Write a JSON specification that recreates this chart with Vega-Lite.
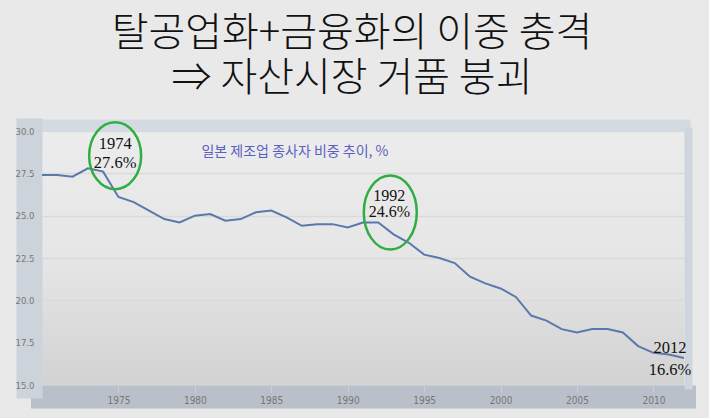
{
  "$schema": "https://vega.github.io/schema/vega-lite/v6.json",
  "width": 642,
  "height": 254,
  "autosize": {"type": "none"},
  "padding": {"left": 42, "top": 131, "right": 25, "bottom": 33},
  "background": "#e9e9e9",
  "title": {
    "text": ["탈공업화+금융화의 이중 충격", "⇒ 자산시장 거품 붕괴"],
    "font": "Noto Sans CJK KR",
    "fontSize": 40,
    "fontWeight": 300,
    "lineHeight": 45,
    "color": "#111111",
    "anchor": "middle",
    "dx": -11,
    "dy": 42,
    "offset": 20,
    "baseline": "bottom"
  },
  "config": {
    "view": {
      "stroke": null,
      "fill": {
        "gradient": "linear",
        "x1": 0, "y1": 0, "x2": 0, "y2": 1,
        "stops": [
          {"offset": 0, "color": "#ececec"},
          {"offset": 0.5, "color": "#e6e6e6"},
          {"offset": 1, "color": "#d2d2d2"}
        ]
      }
    }
  },
  "layer": [
    {
      "data": {
        "values": [
          {"year": 1970, "value": 27.4}, {"year": 1971, "value": 27.4}, {"year": 1972, "value": 27.3},
          {"year": 1973, "value": 27.8}, {"year": 1974, "value": 27.6}, {"year": 1975, "value": 26.1},
          {"year": 1976, "value": 25.8}, {"year": 1977, "value": 25.3}, {"year": 1978, "value": 24.8},
          {"year": 1979, "value": 24.6}, {"year": 1980, "value": 25.0}, {"year": 1981, "value": 25.1},
          {"year": 1982, "value": 24.7}, {"year": 1983, "value": 24.8}, {"year": 1984, "value": 25.2},
          {"year": 1985, "value": 25.3}, {"year": 1986, "value": 24.9}, {"year": 1987, "value": 24.4},
          {"year": 1988, "value": 24.5}, {"year": 1989, "value": 24.5}, {"year": 1990, "value": 24.3},
          {"year": 1991, "value": 24.6}, {"year": 1992, "value": 24.6}, {"year": 1993, "value": 23.9},
          {"year": 1994, "value": 23.4}, {"year": 1995, "value": 22.7}, {"year": 1996, "value": 22.5},
          {"year": 1997, "value": 22.2}, {"year": 1998, "value": 21.4}, {"year": 1999, "value": 21.0},
          {"year": 2000, "value": 20.7}, {"year": 2001, "value": 20.2}, {"year": 2002, "value": 19.1},
          {"year": 2003, "value": 18.8}, {"year": 2004, "value": 18.3}, {"year": 2005, "value": 18.1},
          {"year": 2006, "value": 18.3}, {"year": 2007, "value": 18.3}, {"year": 2008, "value": 18.1},
          {"year": 2009, "value": 17.3}, {"year": 2010, "value": 16.9}, {"year": 2011, "value": 16.8},
          {"year": 2012, "value": 16.6}
        ]
      },
      "mark": {"type": "line", "color": "#5a78ab", "strokeWidth": 2},
      "encoding": {
        "x": {
          "field": "year", "type": "quantitative",
          "scale": {"domain": [1970, 2012], "nice": false, "zero": false},
          "axis": {
            "orient": "bottom", "title": null, "zindex": 1,
            "values": [1975, 1980, 1985, 1990, 1995, 2000, 2005, 2010],
            "format": "d", "grid": false, "domain": false,
            "tickSize": 7, "tickColor": "#cbd0d7", "tickWidth": 1,
            "labelFont": "Liberation Sans Narrow, DejaVu Sans Condensed, sans-serif",
            "labelFontSize": 10, "labelColor": "#777777",
            "labelBaseline": "middle", "labelPadding": 8
          }
        },
        "y": {
          "field": "value", "type": "quantitative",
          "scale": {"domain": [15, 30], "nice": false, "zero": false},
          "axis": {
            "orient": "left", "title": null, "zindex": 1,
            "values": [15, 17.5, 20, 22.5, 25, 27.5, 30],
            "format": ".1f", "domain": false, "ticks": false, "grid": false,
            "labelFont": "Liberation Sans Narrow, DejaVu Sans Condensed, sans-serif",
            "labelFontSize": 9.5, "labelColor": "#777777",
            "labelAlign": "right", "labelBaseline": "middle", "labelPadding": 8
          }
        }
      }
    },
    {
      "data": {"values": [{"year": 1974, "value": 27.6}]},
      "mark": {
        "type": "point",
        "shape": "M-0.776,0A0.776,1 0 1,0 0.776,0A0.776,1 0 1,0 -0.776,0Z",
        "size": 4489, "filled": false, "stroke": "#2fae44", "strokeWidth": 2.5, "opacity": 1,
        "xOffset": 12, "yOffset": -16
      },
      "encoding": {
        "x": {
          "field": "year", "type": "quantitative",
          "axis": {
            "orient": "bottom", "title": null, "labels": false, "ticks": false, "grid": false,
            "zindex": 0,
            "offset": 11.5, "domainWidth": 23, "domainColor": "#bac0c9", "domainCap": "square"
          }
        },
        "y": {
          "field": "value", "type": "quantitative",
          "axis": {
            "orient": "left", "title": null, "labels": false, "ticks": false, "zindex": 0,
            "values": [15, 17.5, 20, 22.5, 25, 27.5, 30],
            "grid": true, "gridColor": "#d9d9d9", "gridWidth": 1.5,
            "offset": 13, "domainWidth": 26, "domainColor": "#cdd3db", "domainCap": "square"
          }
        }
      }
    },
    {
      "data": {"values": [{"year": 1992, "value": 24.6}]},
      "mark": {
        "type": "point",
        "shape": "M-0.716,0A0.716,1 0 1,0 0.716,0A0.716,1 0 1,0 -0.716,0Z",
        "size": 5476, "filled": false, "stroke": "#2fae44", "strokeWidth": 2.5, "opacity": 1,
        "xOffset": 12, "yOffset": -10
      },
      "encoding": {
        "x": {
          "field": "year", "type": "quantitative",
          "axis": {
            "orient": "top", "title": null, "labels": false, "ticks": false, "grid": false,
            "zindex": 0,
            "offset": 6, "domainWidth": 12, "domainColor": "#d3dae1", "domainCap": "square"
          }
        },
        "y": {
          "field": "value", "type": "quantitative",
          "axis": {
            "orient": "right", "title": null, "labels": false, "ticks": false, "grid": false,
            "zindex": 0,
            "offset": 4, "domainWidth": 8, "domainColor": "#cfd5dc", "domainCap": "square"
          }
        }
      }
    },
    {
      "data": {"values": [{"year": 1974, "value": 27.6, "label": ["1974", "27.6%"]}]},
      "mark": {
        "type": "text", "font": "Liberation Serif", "fontSize": 16.5, "color": "#111111",
        "lineHeight": 19, "baseline": "middle", "align": "center",
        "dx": 12, "dy": -28
      },
      "encoding": {
        "x": {"field": "year", "type": "quantitative", "axis": null},
        "y": {"field": "value", "type": "quantitative", "axis": null},
        "text": {"field": "label"}
      }
    },
    {
      "data": {"values": [{"year": 1992, "value": 24.6, "label": ["1992", "24.6%"]}]},
      "mark": {
        "type": "text", "font": "Liberation Serif", "fontSize": 16, "color": "#111111",
        "lineHeight": 16, "baseline": "middle", "align": "center",
        "dx": 11, "dy": -26
      },
      "encoding": {
        "x": {"field": "year", "type": "quantitative", "axis": null},
        "y": {"field": "value", "type": "quantitative", "axis": null},
        "text": {"field": "label"}
      }
    },
    {
      "data": {"values": [{"year": 2012, "value": 16.6, "label": ["2012", "16.6%"]}]},
      "mark": {
        "type": "text", "font": "Liberation Serif", "fontSize": 16.5, "color": "#111111",
        "lineHeight": 22, "baseline": "middle", "align": "center",
        "dx": -14, "dy": -10
      },
      "encoding": {
        "x": {"field": "year", "type": "quantitative", "axis": null},
        "y": {"field": "value", "type": "quantitative", "axis": null},
        "text": {"field": "label"}
      }
    },
    {
      "data": {"values": [{"year": 1986.55, "value": 28.76, "label": "일본 제조업 종사자 비중 추이, %"}]},
      "mark": {
        "type": "text", "font": "Noto Sans CJK KR", "fontSize": 14, "color": "#5b5fbf",
        "baseline": "middle", "align": "center"
      },
      "encoding": {
        "x": {"field": "year", "type": "quantitative", "axis": null},
        "y": {"field": "value", "type": "quantitative", "axis": null},
        "text": {"field": "label"}
      }
    }
  ],
  "resolve": {"axis": {"x": "independent", "y": "independent"}}
}
